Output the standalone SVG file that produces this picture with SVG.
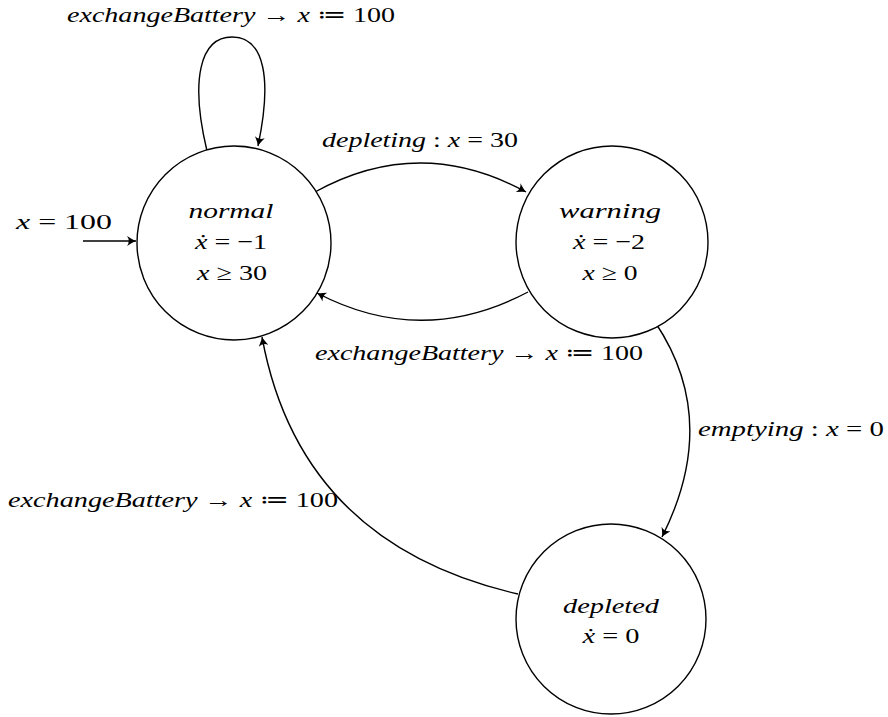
<svg xmlns="http://www.w3.org/2000/svg" width="888" height="717" viewBox="0 0 888 717">
<style>
text{font-family:"Liberation Serif","DejaVu Serif",serif;font-size:22px;font-style:italic;fill:#000;text-anchor:middle}
.r{font-style:normal}
.n{fill:#fff;stroke:#000;stroke-width:1.4}
.e{fill:none;stroke:#000;stroke-width:1.4;marker-end:url(#a)}
</style>
<defs>
<marker id="a" viewBox="-10 -5 12 10" refX="0" refY="0" markerWidth="12" markerHeight="10" markerUnits="userSpaceOnUse" orient="auto">
<path d="M-9,-5 Q-3,-1 0,0 Q-3,1 -9,5 Q-5.5,0 -9,-5Z" fill="#000"/>
</marker>
</defs>
<g id="edges">
<path class="e" d="M207,151 C190,80 200,37 232,37 C265,37 272,80 258,146"/>
<path class="e" d="M83,241 L136,241"/>
<path class="e" d="M315,192 Q420,134 526,192"/>
<path class="e" d="M528,292 Q422,348 317,293"/>
<path class="e" d="M655,322 Q721,420 662,537"/>
<path class="e" d="M518,594 Q300,544 262,337"/>
</g>
<g id="normal">
<circle class="n" cx="234" cy="243" r="97"/>
<text x="231" y="218" textLength="85" lengthAdjust="spacingAndGlyphs">normal</text>
<text x="231" y="249" textLength="72" lengthAdjust="spacingAndGlyphs">ẋ<tspan class="r"> = −1</tspan></text>
<text x="232" y="280" textLength="70" lengthAdjust="spacingAndGlyphs">x<tspan class="r"> ≥ 30</tspan></text>
</g>
<g id="warning">
<circle class="n" cx="612" cy="242" r="96"/>
<text x="610" y="218" textLength="102" lengthAdjust="spacingAndGlyphs">warning</text>
<text x="609" y="249" textLength="72" lengthAdjust="spacingAndGlyphs">ẋ<tspan class="r"> = −2</tspan></text>
<text x="610" y="280" textLength="55" lengthAdjust="spacingAndGlyphs">x<tspan class="r"> ≥ 0</tspan></text>
</g>
<g id="depleted">
<circle class="n" cx="611" cy="619" r="95"/>
<text x="611" y="613" textLength="96" lengthAdjust="spacingAndGlyphs">depleted</text>
<text x="611" y="643" textLength="57" lengthAdjust="spacingAndGlyphs">ẋ<tspan class="r"> = 0</tspan></text>
</g>
<g id="labels">
<text x="231" y="22" textLength="328" lengthAdjust="spacingAndGlyphs">exchangeBattery<tspan class="r"> → </tspan>x<tspan class="r"> ≔ 100</tspan></text>
<text x="420" y="147" textLength="196" lengthAdjust="spacingAndGlyphs">depleting<tspan class="r"> : </tspan>x<tspan class="r"> = 30</tspan></text>
<text x="64" y="229" textLength="96" lengthAdjust="spacingAndGlyphs">x<tspan class="r"> = 100</tspan></text>
<text x="479" y="360" textLength="328" lengthAdjust="spacingAndGlyphs">exchangeBattery<tspan class="r"> → </tspan>x<tspan class="r"> ≔ 100</tspan></text>
<text x="791" y="436" textLength="186" lengthAdjust="spacingAndGlyphs">emptying<tspan class="r"> : </tspan>x<tspan class="r"> = 0</tspan></text>
<text x="173" y="507" textLength="330" lengthAdjust="spacingAndGlyphs">exchangeBattery<tspan class="r"> → </tspan>x<tspan class="r"> ≔ 100</tspan></text>
</g>
</svg>
